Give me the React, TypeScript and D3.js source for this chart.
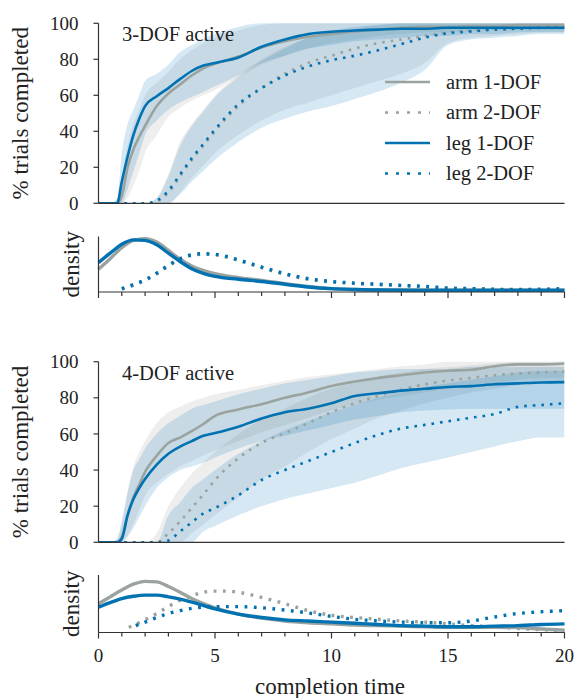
import React from "react";
import * as d3 from "d3";

// ---------- data ----------
const TIME = [0, 0.5, 0.8, 1, 1.25, 1.5, 1.75, 2, 2.5, 3, 3.5, 4, 4.5, 5, 6, 7, 8, 9, 10, 11, 12, 13, 14, 15, 16, 17, 18, 19, 20];

// 3-DOF active
const arm1_3 = [0, 0, 0, 4, 20, 30, 37, 43, 54, 61, 66, 71, 75, 77.5, 81.5, 86.5, 90, 92.5, 94, 95.5, 96.5, 97.5, 98, 98, 98.5, 98.5, 99, 99, 99];
const arm1_3_lo = [0, 0, 0, 0, 3, 10, 18, 28, 38, 48, 53, 57, 60, 63, 70, 77, 82, 86, 89, 91, 93, 94, 95, 95, 96, 96, 96, 96, 96];
const arm1_3_hi = [0, 0, 2, 15, 32, 44, 52, 60, 67, 73, 80, 85, 89, 92, 96, 99, 100, 100, 100, 100, 100, 100, 100, 100, 100, 100, 100, 100, 100];
const arm2_3 = [0, 0, 0, 0, 0, 0, 0, 0, 1, 6, 15, 24, 32, 40, 54, 64, 72, 78, 82, 86, 89, 91, 93, 95, 96, 97, 97.5, 98, 98];
const arm2_3_lo = [0, 0, 0, 0, 0, 0, 0, 0, 0, 0, 6, 14, 21, 28, 38, 46, 52, 56, 60, 64, 68, 72, 78, 89, 92, 93, 94, 95, 95];
const arm2_3_hi = [0, 0, 0, 0, 0, 0, 0, 0, 3, 16, 34, 44, 52, 60, 71, 80, 87, 92, 95, 97, 99, 100, 100, 100, 100, 100, 100, 100, 100];
const leg1_3 = [0, 0, 0, 12, 26, 38, 47, 54, 59.5, 64, 69, 73.5, 76.5, 78, 81, 87, 91, 94, 95.3, 96, 96.5, 97, 97, 97.5, 97.5, 97.5, 97.5, 97.5, 97.5];
const leg1_3_lo = [0, 0, 0, 0, 8, 18, 28, 38, 46, 52, 56, 59, 62, 65, 71, 78, 82, 86, 88, 90, 91, 92, 93, 93, 94, 94, 95, 95, 95];
const leg1_3_hi = [0, 0, 3, 28, 44, 52, 60, 68, 72, 77, 84, 88, 91.5, 94, 98, 100, 100, 100, 100, 100, 100, 100, 100, 100, 100, 100, 100, 100, 100];
const leg2_3 = [0, 0, 0, 0, 0, 0, 0, 0, 1.5, 7, 16, 25, 33, 41, 55, 64, 71, 76, 79.5, 82, 85, 88.5, 92, 94.5, 95.5, 96.5, 97, 97.5, 97.5];
const leg2_3_lo = [0, 0, 0, 0, 0, 0, 0, 0, 0, 0, 5, 12, 18, 24, 34, 42, 47, 51, 54, 58, 62, 67, 74, 88, 91, 92, 93, 94, 94];
const leg2_3_hi = [0, 0, 0, 0, 0, 0, 0, 0, 3, 15, 32, 43, 51, 59, 70, 79, 86, 92, 96, 98, 99, 100, 100, 100, 100, 100, 100, 100, 100];

// 4-DOF active
const arm1_4 = [0, 0, 0, 3, 15, 25, 32, 39, 48, 55, 58, 61.5, 65.5, 70, 73.5, 76.5, 80, 83, 86.5, 89, 91, 92.5, 94, 95, 95.5, 97.5, 98.5, 98.5, 99];
const arm1_4_lo = [0, 0, 0, 0, 4, 10, 18, 26, 33, 38, 42, 45, 48, 51, 56, 61, 65, 69, 73, 76, 79, 81, 83, 85, 86, 88, 90, 91, 91];
const arm1_4_hi = [0, 0, 2, 10, 28, 42, 50, 56, 66, 72, 75, 78, 80, 82, 84.5, 87, 89.5, 91.5, 93, 94.5, 96, 97.5, 98.5, 100, 100, 100, 100, 100, 100];
const arm2_4 = [0, 0, 0, 0, 0, 0, 0, 0, 0, 5, 11.5, 19, 26.5, 34.5, 46.5, 55, 60.5, 66, 72, 77, 81, 84.5, 87.5, 89.5, 91, 92.5, 93.5, 94, 94.5];
const arm2_4_lo = [0, 0, 0, 0, 0, 0, 0, 0, 0, 0, 0, 5, 10, 15, 25, 35, 42, 50, 57, 63, 69, 73, 77, 80, 83, 85, 87, 88, 88];
const arm2_4_hi = [0, 0, 0, 0, 0, 0, 0, 0, 5, 20, 30, 38, 44, 50, 60, 68, 74, 80, 85, 89, 92, 94, 96, 97, 98, 99, 100, 100, 100];
const leg1_4 = [0, 0, 0, 2, 15, 24, 30, 35, 43, 49, 53, 56, 59, 60.5, 64, 68.5, 72, 74, 77, 81, 82.5, 84, 85, 86, 86.5, 87.5, 88, 88.5, 88.7];
const leg1_4_lo = [0, 0, 0, 0, 3, 8, 14, 20, 30, 36, 40, 42, 44, 47, 52, 56, 59, 62, 65, 68, 70, 72, 73, 73.5, 74, 74, 74, 74, 74];
const leg1_4_hi = [0, 0, 2, 12, 28, 40, 46, 52, 60, 66, 70, 74, 76, 78, 82, 85, 88, 90, 92, 94, 95, 96, 96, 96, 97, 97, 97, 97, 97];
const leg2_4 = [0, 0, 0, 0, 0, 0, 0, 0, 0, 1, 6, 11, 16, 19, 26, 34.5, 40, 45, 50, 55, 59.5, 63, 65, 67, 69, 71, 75, 76, 77];
const leg2_4_lo = [0, 0, 0, 0, 0, 0, 0, 0, 0, 0, 0, 0, 6, 9, 15, 20, 24, 27, 30, 33, 37, 41, 44, 47, 50, 53, 56, 58, 58];
const leg2_4_hi = [0, 0, 0, 0, 0, 0, 0, 0, 0, 15, 22, 30, 35, 40, 49, 56, 62, 67, 72, 76, 80, 83, 86, 88, 90, 92, 94, 95, 95];

// densities
const DT_1DOF_3 = [0, 0.5, 1, 1.5, 2, 2.5, 3, 3.5, 4, 5, 6, 7, 8, 9, 10, 11, 12, 14, 16, 18, 20];
const dens_arm1_3 = [0.41, 0.6, 0.8, 0.93, 0.96, 0.9, 0.75, 0.59, 0.47, 0.33, 0.26, 0.21, 0.15, 0.1, 0.06, 0.045, 0.04, 0.035, 0.035, 0.035, 0.035];
const dens_leg1_3 = [0.53, 0.7, 0.86, 0.94, 0.93, 0.85, 0.7, 0.55, 0.42, 0.28, 0.23, 0.19, 0.14, 0.09, 0.06, 0.045, 0.035, 0.03, 0.03, 0.03, 0.03];
const DT_2DOF_3 = [1, 1.5, 2, 2.5, 3, 3.5, 4, 4.5, 5, 5.5, 6, 7, 8, 9, 10, 11, 12, 13, 14, 15, 16, 17, 18, 19, 20];
const dens_arm2_3 = [0.05, 0.12, 0.21, 0.33, 0.47, 0.59, 0.66, 0.68, 0.67, 0.63, 0.57, 0.44, 0.32, 0.23, 0.18, 0.155, 0.135, 0.115, 0.095, 0.07, 0.055, 0.045, 0.04, 0.04, 0.045];
const dens_leg2_3 = [0.06, 0.135, 0.22, 0.34, 0.48, 0.6, 0.67, 0.69, 0.68, 0.64, 0.58, 0.45, 0.33, 0.24, 0.19, 0.16, 0.14, 0.12, 0.1, 0.07, 0.06, 0.05, 0.045, 0.05, 0.06];

const DT_1DOF_4 = [0, 0.5, 1, 1.5, 2, 2.5, 3, 3.5, 4, 5, 6, 7, 8, 9, 10, 11, 12, 13, 14, 15, 16, 17, 18, 19, 20];
const dens_arm1_4 = [0.5, 0.62, 0.74, 0.84, 0.89, 0.88, 0.8, 0.7, 0.59, 0.43, 0.32, 0.25, 0.2, 0.17, 0.15, 0.13, 0.12, 0.11, 0.1, 0.09, 0.09, 0.09, 0.085, 0.06, 0.04];
const dens_leg1_4 = [0.44, 0.52, 0.59, 0.63, 0.65, 0.65, 0.62, 0.58, 0.53, 0.41, 0.32, 0.26, 0.22, 0.2, 0.18, 0.16, 0.14, 0.12, 0.11, 0.1, 0.1, 0.11, 0.12, 0.14, 0.15];
const DT_arm2_4 = [1.3, 2, 2.5, 3, 3.5, 4, 4.5, 5, 5.5, 6, 6.5, 7, 8, 9, 10, 11, 12, 13, 14, 15, 16, 17, 18, 19, 20];
const dens_arm2_4 = [0.09, 0.22, 0.33, 0.45, 0.56, 0.64, 0.7, 0.72, 0.72, 0.7, 0.66, 0.61, 0.5, 0.38, 0.3, 0.26, 0.23, 0.2, 0.18, 0.15, 0.12, 0.1, 0.07, 0.05, 0.03];
const DT_leg2_4 = [1.6, 2, 2.5, 3, 3.5, 4, 4.5, 5, 6, 7, 8, 9, 10, 11, 12, 13, 14, 15, 16, 17, 18, 19, 20];
const dens_leg2_4 = [0.12, 0.18, 0.26, 0.33, 0.38, 0.42, 0.44, 0.45, 0.45, 0.43, 0.39, 0.34, 0.28, 0.23, 0.2, 0.18, 0.17, 0.17, 0.2, 0.27, 0.33, 0.36, 0.38];

const Y_TICKS = [0, 20, 40, 60, 80, 100];
const X_TICKS = [0, 5, 10, 15, 20];
const LEGEND = ["arm 1-DOF", "arm 2-DOF", "leg 1-DOF", "leg 2-DOF"];

// ---------- style ----------
const GRAY = "#9aa39f";
const BLUE = "#0072b2";
const GRAY_BAND = "rgba(140,150,145,0.16)";
const BLUE_BAND = "rgba(0,114,178,0.16)";
const AXIS = "#333";
const TXT = "#222";
const FONT = "Liberation Serif, Tinos, Times New Roman, Times, DejaVu Serif, serif";
const DOT = "2.6,6";

const xScale = d3.scaleLinear().domain([0, 20]).range([98.5, 564.5]);

type Series = { v: number[]; lo: number[]; hi: number[]; color: string; band: string; dotted: boolean };

function MainPanel({ top, bottom, title, series, id, legend }: { top: number; bottom: number; title: string; series: Series[]; id: string; legend?: boolean }) {
  const y = d3.scaleLinear().domain([0, 100]).range([bottom, top]);
  const line = d3.line<number>().x((_, i) => xScale(TIME[i])).y((d) => y(d)).curve(d3.curveMonotoneX);
  const area = (lo: number[], hi: number[]) =>
    d3.area<number>().x((_, i) => xScale(TIME[i])).y0((_, i) => y(lo[i])).y1((_, i) => y(hi[i])).curve(d3.curveMonotoneX)(lo) || "";
  const [x0, x1] = xScale.range();
  return (
    <g>
      <defs>
        <clipPath id={id}>
          <rect x={x0} y={top - 2} width={x1 - x0} height={bottom - top + 2} />
        </clipPath>
      </defs>
      <g clipPath={`url(#${id})`}>
        {series.map((s, k) => (
          <path key={"b" + k} d={area(s.lo, s.hi)} fill={s.band} stroke="none" />
        ))}
        {series.map((s, k) => (
          <path key={"l" + k} d={line(s.v) || ""} fill="none" stroke={s.color} strokeWidth={2.6}
            strokeDasharray={s.dotted ? DOT : undefined} />
        ))}
      </g>
      <line x1={x0} x2={x0} y1={top} y2={bottom} stroke={AXIS} strokeWidth={1.2} />
      <line x1={x0} x2={x1} y1={bottom} y2={bottom} stroke={AXIS} strokeWidth={1.2} />
      {Y_TICKS.map((t) => (
        <g key={t}>
          <line x1={x0 - 5} x2={x0} y1={y(t)} y2={y(t)} stroke={AXIS} strokeWidth={1.2} />
          <text x={78.5} y={y(t)} dy="0.35em" textAnchor="end" fontSize={19} style={{ fontFamily: FONT }} fill={TXT}>{t}</text>
        </g>
      ))}
      <text x={122} y={top + 18} fontSize={20.5} style={{ fontFamily: FONT }} fill={TXT}>{title}</text>
      <text transform={`translate(28,${(top + bottom) / 2}) rotate(-90)`} textAnchor="middle" fontSize={23} style={{ fontFamily: FONT }} fill={TXT}>% trials completed</text>
      {legend && LEGEND.map((name, i) => {
        const ly = 82 + i * 30.5;
        const s = series[i];
        return (
          <g key={name}>
            <line x1={385} x2={430} y1={ly} y2={ly} stroke={s.color} strokeWidth={2.6} strokeDasharray={s.dotted ? "3,8" : undefined} />
            <text x={446} y={ly} dy="0.33em" fontSize={20.5} style={{ fontFamily: FONT }} fill={TXT}>{name}</text>
          </g>
        );
      })}
    </g>
  );
}

type DSeries = { t: number[]; v: number[]; color: string; dotted: boolean };

function DensityPanel({ top, bottom, series, labels }: { top: number; bottom: number; series: DSeries[]; labels?: boolean }) {
  const y = d3.scaleLinear().domain([0, 1]).range([bottom, top]);
  const [x0, x1] = xScale.range();
  const minor = d3.range(0, 21, 1);
  return (
    <g>
      {series.map((s, k) => {
        const line = d3.line<number>().x((_, i) => xScale(s.t[i])).y((d) => y(d)).curve(d3.curveMonotoneX);
        return (
          <path key={k} d={line(s.v) || ""} fill="none" stroke={s.color} strokeWidth={3.4}
            strokeDasharray={s.dotted ? "2.8,6.5" : undefined} />
        );
      })}
      <line x1={x0} x2={x0} y1={top} y2={bottom} stroke={AXIS} strokeWidth={1.2} />
      <line x1={x0} x2={x1} y1={bottom} y2={bottom} stroke={AXIS} strokeWidth={1.2} />
      {minor.map((t) => (
        <line key={t} x1={xScale(t)} x2={xScale(t)} y1={bottom} y2={bottom + (t % 5 === 0 ? 6 : 4)} stroke={AXIS} strokeWidth={1.2} />
      ))}
      {labels && X_TICKS.map((t) => (
        <text key={t} x={xScale(t)} y={662} textAnchor="middle" fontSize={19} style={{ fontFamily: FONT }} fill={TXT}>{t}</text>
      ))}
      <text transform={`translate(79,${(top + bottom) / 2}) rotate(-90)`} textAnchor="middle" fontSize={23} style={{ fontFamily: FONT }} fill={TXT}>density</text>
    </g>
  );
}

export default function App() {
  const s3: Series[] = [
    { v: arm1_3, lo: arm1_3_lo, hi: arm1_3_hi, color: GRAY, band: GRAY_BAND, dotted: false },
    { v: arm2_3, lo: arm2_3_lo, hi: arm2_3_hi, color: GRAY, band: GRAY_BAND, dotted: true },
    { v: leg1_3, lo: leg1_3_lo, hi: leg1_3_hi, color: BLUE, band: BLUE_BAND, dotted: false },
    { v: leg2_3, lo: leg2_3_lo, hi: leg2_3_hi, color: BLUE, band: BLUE_BAND, dotted: true },
  ];
  const s4: Series[] = [
    { v: arm1_4, lo: arm1_4_lo, hi: arm1_4_hi, color: GRAY, band: GRAY_BAND, dotted: false },
    { v: arm2_4, lo: arm2_4_lo, hi: arm2_4_hi, color: GRAY, band: GRAY_BAND, dotted: true },
    { v: leg1_4, lo: leg1_4_lo, hi: leg1_4_hi, color: BLUE, band: BLUE_BAND, dotted: false },
    { v: leg2_4, lo: leg2_4_lo, hi: leg2_4_hi, color: BLUE, band: BLUE_BAND, dotted: true },
  ];
  const d3s: DSeries[] = [
    { t: DT_1DOF_3, v: dens_arm1_3, color: GRAY, dotted: false },
    { t: DT_2DOF_3, v: dens_arm2_3, color: GRAY, dotted: true },
    { t: DT_1DOF_3, v: dens_leg1_3, color: BLUE, dotted: false },
    { t: DT_2DOF_3, v: dens_leg2_3, color: BLUE, dotted: true },
  ];
  const d4s: DSeries[] = [
    { t: DT_1DOF_4, v: dens_arm1_4, color: GRAY, dotted: false },
    { t: DT_arm2_4, v: dens_arm2_4, color: GRAY, dotted: true },
    { t: DT_1DOF_4, v: dens_leg1_4, color: BLUE, dotted: false },
    { t: DT_leg2_4, v: dens_leg2_4, color: BLUE, dotted: true },
  ];
  return (
    <svg width={576} height={698} style={{ position: "absolute", left: 0, top: 0, background: "#fff", fontFamily: FONT }}>
      <MainPanel id="c3" top={23.3} bottom={203.3} title="3-DOF active" series={s3} legend />
      <DensityPanel top={236.5} bottom={292} series={d3s} />
      <MainPanel id="c4" top={361.7} bottom={542.3} title="4-DOF active" series={s4} />
      <DensityPanel top={575} bottom={632.5} series={d4s} labels />
      <text x={330} y={694} textAnchor="middle" fontSize={23} style={{ fontFamily: FONT }} fill={TXT}>completion time</text>
    </svg>
  );
}
